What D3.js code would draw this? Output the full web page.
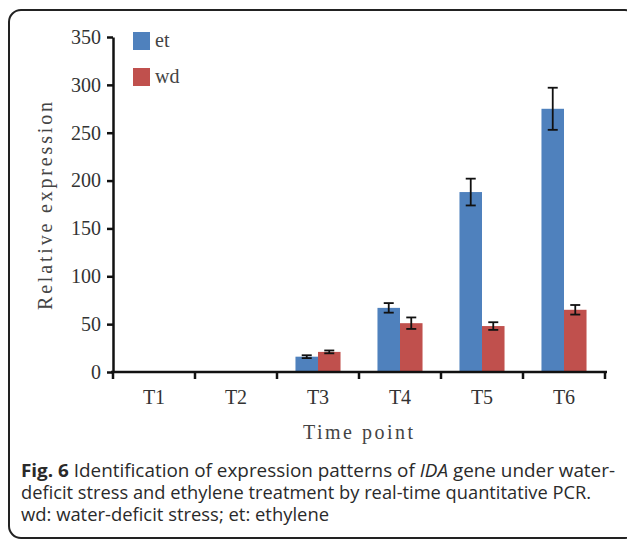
<!DOCTYPE html>
<html>
<head>
<meta charset="utf-8">
<script src="https://cdn.jsdelivr.net/npm/d3@7"></script>
<style>
  html, body { margin: 0; padding: 0; background: #fff; }
  svg { display: block; }
</style>
</head>
<body>
<svg id="chart" width="627" height="540"></svg>
<script>
const categories = ["T1", "T2", "T3", "T4", "T5", "T6"];
const seriesNames = ["et", "wd"];
const etValues = [0, 0, 16, 67, 188, 275];
const etErrors = [0, 0, 1.5, 5, 14, 22];
const wdValues = [0, 0, 21, 51, 48, 65];
const wdErrors = [0, 0, 1.5, 6, 4, 5];
const yTicks = [0, 50, 100, 150, 200, 250, 300, 350];
const colors = { et: "#4F81BD", wd: "#C0504D" };

const svg = d3.select("#chart");
const serif = "'Liberation Serif', 'DejaVu Serif', serif";

// Frame
svg.append("rect")
  .attr("x", 9).attr("y", 10).attr("width", 628).attr("height", 528)
  .attr("rx", 12).attr("ry", 12)
  .attr("fill", "none").attr("stroke", "#222").attr("stroke-width", 2);

const plot = { left: 113, right: 605, top: 37, bottom: 372 };

const y = d3.scaleLinear().domain([0, 350]).range([plot.bottom, plot.top]);
const x0 = d3.scaleBand().domain(categories).range([plot.left, plot.right]).padding(0);
const x1 = d3.scaleBand().domain(seriesNames).range([0, x0.bandwidth()]).paddingInner(0).paddingOuter(0.82);

const data = categories.map((c, i) => ({
  cat: c,
  vals: [
    { s: "et", v: etValues[i], e: etErrors[i] },
    { s: "wd", v: wdValues[i], e: wdErrors[i] }
  ]
}));

// Bars
const groups = svg.append("g").selectAll("g").data(data).join("g")
  .attr("transform", d => `translate(${x0(d.cat)},0)`);

groups.selectAll("rect").data(d => d.vals.filter(v => v.v > 0)).join("rect")
  .attr("x", d => x1(d.s))
  .attr("width", x1.bandwidth())
  .attr("y", d => y(d.v))
  .attr("height", d => y(0) - y(d.v))
  .attr("fill", d => colors[d.s]);

// Error bars
const eb = groups.selectAll("g.err").data(d => d.vals.filter(v => v.v > 0)).join("g").attr("class", "err");
eb.append("line")
  .attr("x1", d => x1(d.s) + x1.bandwidth() / 2)
  .attr("x2", d => x1(d.s) + x1.bandwidth() / 2)
  .attr("y1", d => y(d.v - d.e)).attr("y2", d => y(d.v + d.e))
  .attr("stroke", "#111").attr("stroke-width", 1.8);
[-1, 1].forEach(sign => {
  eb.append("line")
    .attr("x1", d => x1(d.s) + x1.bandwidth() / 2 - 5)
    .attr("x2", d => x1(d.s) + x1.bandwidth() / 2 + 5)
    .attr("y1", d => y(d.v + sign * d.e)).attr("y2", d => y(d.v + sign * d.e))
    .attr("stroke", "#111").attr("stroke-width", 1.8);
});

// Y axis
const yAxis = d3.axisLeft(y).tickValues(yTicks).tickSize(6).tickSizeOuter(0).tickPadding(6);
const gy = svg.append("g").attr("transform", `translate(${plot.left},0)`).call(yAxis);
gy.select(".domain").attr("stroke", "#111").attr("stroke-width", 2.5);
gy.selectAll(".tick line").attr("stroke", "#111").attr("stroke-width", 2.5);
gy.selectAll(".tick text").attr("font-family", serif).attr("font-size", 20).attr("fill", "#333");

// X axis
const xAxis = d3.axisBottom(x0).tickSize(0).tickPadding(18);
const gx = svg.append("g").attr("transform", `translate(0,${plot.bottom})`).call(xAxis);
gx.select(".domain").attr("stroke", "#111").attr("stroke-width", 2.5)
  .attr("d", `M${plot.left - 2},0H${plot.right + 2}`);
gx.selectAll(".tick text").attr("font-family", serif).attr("font-size", 20).attr("fill", "#333");
// category boundary ticks
const boundaries = categories.map(c => x0(c)).concat([x0(categories[categories.length - 1]) + x0.bandwidth()]);
gx.selectAll("line.bnd").data(boundaries).join("line").attr("class", "bnd")
  .attr("x1", d => d).attr("x2", d => d).attr("y1", 0).attr("y2", 7)
  .attr("stroke", "#111").attr("stroke-width", 2.5);

// Axis titles
svg.append("text")
  .attr("transform", `translate(52,206) rotate(-90)`)
  .attr("text-anchor", "middle")
  .attr("font-family", serif).attr("font-size", 20).attr("fill", "#444")
  .attr("textLength", 208).attr("lengthAdjust", "spacing")
  .text("Relative expression");
svg.append("text")
  .attr("x", 358).attr("y", 439)
  .attr("text-anchor", "middle")
  .attr("font-family", serif).attr("font-size", 20).attr("fill", "#444")
  .attr("textLength", 110).attr("lengthAdjust", "spacing")
  .text("Time point");

// Legend
const legend = svg.append("g").selectAll("g").data(seriesNames).join("g")
  .attr("transform", (d, i) => `translate(133,${32 + i * 36})`);
legend.append("rect").attr("width", 17).attr("height", 18).attr("fill", d => colors[d]);
legend.append("text").attr("x", 22).attr("y", 15)
  .attr("font-family", serif).attr("font-size", 20).attr("fill", "#444")
  .text(d => d);

// Caption
const sans = "'Open Sans', 'Noto Sans', sans-serif";
const cap = svg.append("g").attr("font-family", sans).attr("font-size", 18.4).attr("fill", "#2a2a2a");
const l1 = cap.append("text").attr("x", 21).attr("y", 477).attr("textLength", 594).attr("lengthAdjust", "spacingAndGlyphs");
l1.append("tspan").attr("font-weight", "bold").text("Fig. 6");
l1.append("tspan").text(" Identification of expression patterns of ");
l1.append("tspan").attr("font-style", "italic").text("IDA");
l1.append("tspan").text(" gene under water-");
cap.append("text").attr("x", 21).attr("y", 499).attr("textLength", 570).attr("lengthAdjust", "spacingAndGlyphs")
  .text("deficit stress and ethylene treatment by real-time quantitative PCR.");
cap.append("text").attr("x", 21).attr("y", 521).attr("textLength", 308).attr("lengthAdjust", "spacingAndGlyphs")
  .text("wd: water-deficit stress; et: ethylene");
</script>
</body>
</html>
